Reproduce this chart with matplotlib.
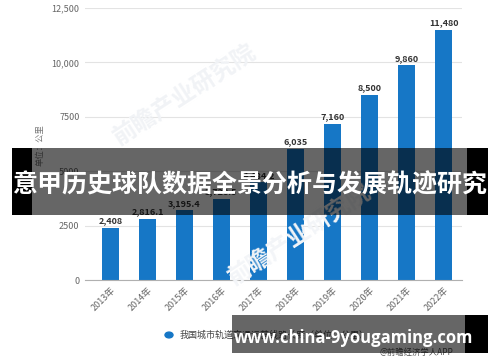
import matplotlib.pyplot as plt
from matplotlib.patches import Rectangle

plt.rcParams['font.family'] = ['Noto Sans CJK SC', 'DejaVu Sans']

# datos del grafico
anios = ['2013年', '2014年', '2015年', '2016年', '2017年',
         '2018年', '2019年', '2020年', '2021年', '2022年']
valores = [2408, 2816.1, 3195.4, 3728.5, 4484.2, 6035, 7160, 8500, 9860, 11480]
yticks = [0, 2500, 5000, 7500, 10000, 12500]
ytick_labels = ['0', '2500', '5000', '7500', '10,000', '12,500']
leyenda = '我国城市轨道交通运营线路长度（单位：公里）'
titulo = '意甲历史球队数据全景分析与发展轨迹研究'
sitio = 'www.china-9yougaming.com'

W, H = 500, 362
fig = plt.figure(figsize=(W / 100, H / 100), dpi=100)
ax = fig.add_axes([85 / W, 1 - 280 / H, 377 / W, 272 / H])

x = range(len(anios))
ax.bar(x, valores, width=0.46, color='#1677c6', zorder=3)
for i, v in enumerate(valores):
    txt = f'{v:,.0f}' if v == int(v) else f'{v:,.1f}'
    ax.annotate(txt, (i, v), xytext=(0, 2), textcoords='offset points',
                ha='center', va='bottom', fontsize=6.5, fontweight='bold',
                color='#333333', zorder=4)

ax.set_xlim(-0.69, 9.5)
ax.set_ylim(0, 12500)
ax.set_yticks(yticks)
ax.set_yticklabels(ytick_labels, fontsize=6.5, color='#666666')
ax.set_xticks(list(x))
ax.set_xticklabels(anios, fontsize=6.5, color='#666666', rotation=45,
                   ha='right', rotation_mode='anchor')
ax.tick_params(length=0, pad=4)
ax.grid(axis='y', color='#e3e3e3', linewidth=0.8, zorder=0)
for s in ['top', 'right', 'left']:
    ax.spines[s].set_visible(False)
ax.spines['bottom'].set_color('#b0b0b0')
ax.spines['bottom'].set_zorder(5)

fig.text(40 / W, 1 - 145 / H, '单位：公里', rotation=90, fontsize=6,
         color='#777777', ha='center', va='center')

# marca de agua
fig.text(185 / W, 1 - 95 / H, '前瞻产业研究院', rotation=33, fontsize=17,
         fontweight='bold', color='#f1f3f6', ha='center', va='center', zorder=1)
fig.text(300 / W, 1 - 235 / H, '前瞻产业研究院', rotation=33, fontsize=17,
         fontweight='bold', color='#f3f5f8', ha='center', va='center', zorder=1)

# leyenda
fig.patches.append(plt.Circle((169 / W, 1 - 335 / H), 4 / W, transform=fig.transFigure,
                              color='#1677c6', zorder=5))
fig.text(180 / W, 1 - 335 / H, leyenda, fontsize=6.5, color='#444444',
         ha='left', va='center', zorder=5)
fig.text(453 / W, 1 - 352 / H, '@前瞻经济学人APP', fontsize=6, color='#555555',
         ha='right', va='center', zorder=5)

# banners
def banda(x0, x1, y0, y1, negro):
    fig.patches.append(Rectangle((x0 / W, 1 - y1 / H), (x1 - x0) / W, (y1 - y0) / H,
                                 transform=fig.transFigure, color='black',
                                 alpha=0.6, zorder=10, linewidth=0))
    for a, b in negro:
        fig.patches.append(Rectangle((a / W, 1 - y1 / H), (b - a) / W, (y1 - y0) / H,
                                     transform=fig.transFigure, color='black',
                                     zorder=11, linewidth=0))

banda(32, 467, 148, 215, [(12, 32), (467, 488)])
fig.text(250 / W, 1 - 185 / H, titulo, fontsize=18, fontweight='bold',
         color='white', ha='center', va='center', zorder=12)

banda(232, 465, 315, 353, [(465, 488)])
fig.text(354 / W, 1 - 338 / H, sitio, fontsize=12, fontweight='bold',
         color='white', ha='center', va='center', zorder=12,
         family=['Open Sans', 'DejaVu Sans'])

fig.savefig('out.png', dpi=100)
